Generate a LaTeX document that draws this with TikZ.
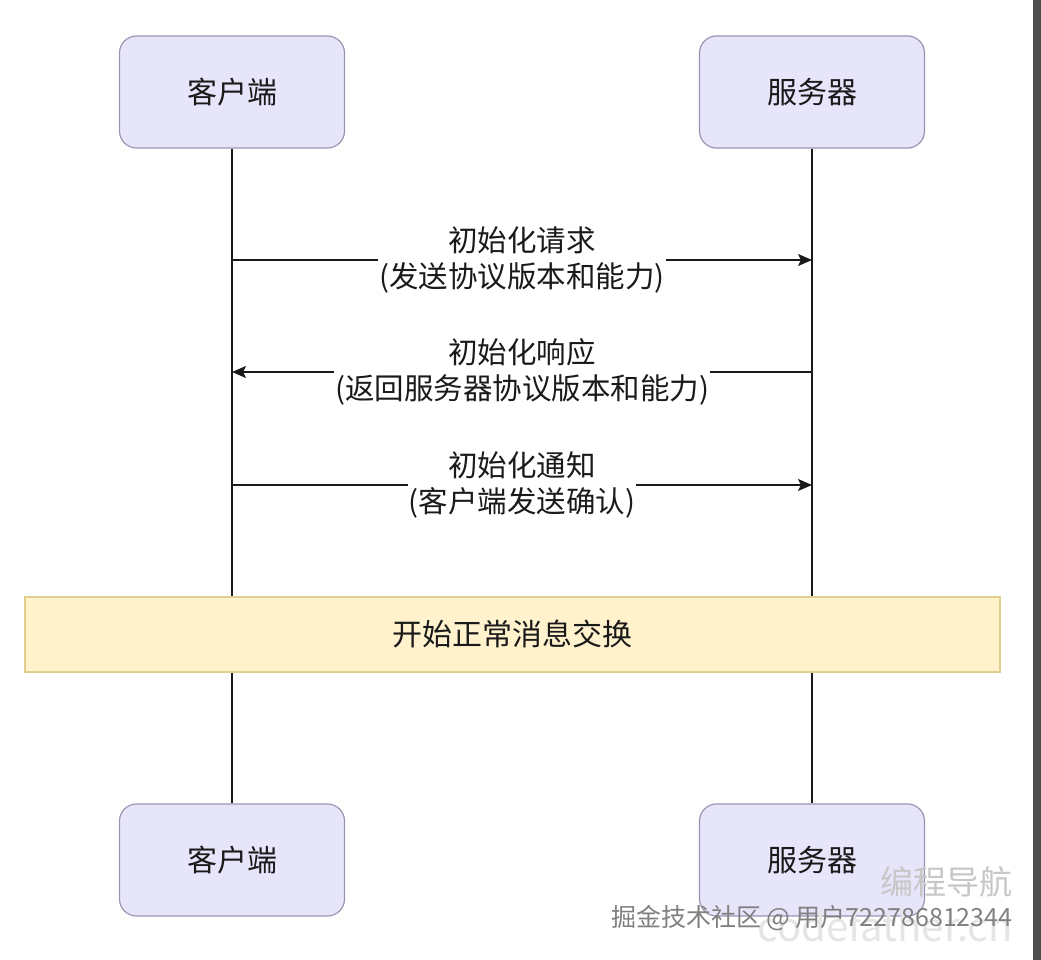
\documentclass[tikz,border=0pt]{standalone}
\usepackage{fontspec}
\setmainfont{Noto Sans CJK SC}
\usetikzlibrary{arrows.meta}
\definecolor{lavender}{HTML}{E6E5FA}
\definecolor{lavline}{HTML}{9A95B3}
\definecolor{cream}{HTML}{FFF2CC}
\definecolor{creamline}{HTML}{E2CF8C}
\definecolor{ink}{HTML}{1A1A1A}
\definecolor{strip}{HTML}{4D4D4D}
\tikzset{actor/.style={draw=lavline, fill=lavender, line width=1.2pt, rounded corners=17pt, minimum width=225pt, minimum height=112pt, text=ink, font=\fontsize{30}{30}\selectfont}}
\tikzset{phase/.style={draw=creamline, fill=cream, line width=1.2pt, minimum width=975pt, minimum height=75pt, text=ink, font=\fontsize{30}{30}\selectfont}}
\tikzset{msg/.style={fill=white, align=center, inner xsep=1pt, inner ysep=2pt, text=ink, font=\fontsize{29.5}{36}\selectfont}}
\tikzset{life/.style={draw=ink, line width=1.5pt}}
\tikzset{call/.style={draw=ink, line width=1.5pt, -{Stealth[length=14pt, width=12pt, inset=3pt]}}}

\begin{document}
\begin{tikzpicture}[x=1pt, y=-1pt]
        \useasboundingbox (0,0) rectangle (1041,960);
        \fill [white] (0,0) rectangle (1041,960);
        \fill [strip] (1033,0) rectangle (1041,960);
        \node [phase] (phase) at (512.5,634.5) {开始正常消息交换};
        \node [actor] (client) at (232,92) {客户端};
        \node [actor] (server) at (812,92) {服务器};
        \node [actor] (clientend) at (232,860) {客户端};
        \node [actor] (serverend) at (812,860) {服务器};
        \draw [life] (client.south) -- (client.south |- phase.north);
        \draw [life] (server.south) -- (server.south |- phase.north);
        \draw [life] (clientend.north |- phase.south) -- (clientend.north);
        \draw [life] (serverend.north |- phase.south) -- (serverend.north);
        \coordinate (c1) at (client |- 0,260);
        \coordinate (s1) at (server |- 0,260);
        \coordinate (c2) at (client |- 0,372);
        \coordinate (s2) at (server |- 0,372);
        \coordinate (c3) at (client |- 0,485);
        \coordinate (s3) at (server |- 0,485);
        \draw [call] (c1) -- node [msg] {初始化请求\\(发送协议版本和能力)} (s1);
        \draw [call] (s2) -- node [msg] {初始化响应\\(返回服务器协议版本和能力)} (c2);
        \draw [call] (c3) -- node [msg] {初始化通知\\(客户端发送确认)} (s3);
        % watermark
        \node [anchor=east, text=black!10, font=\fontsize{40}{40}\selectfont] (site) at (1016,926) {codefather.cn};
        \node [anchor=east, text=black!22, font=\fontsize{33}{33}\selectfont] (brand) at (1016,882) {编程导航};
        \node [anchor=east, text=black!50, font=\fontsize{25}{25}\selectfont] (user) at (1016,918) {掘金技术社区 @ 用户722786812344};
      \end{tikzpicture}
\end{document}
